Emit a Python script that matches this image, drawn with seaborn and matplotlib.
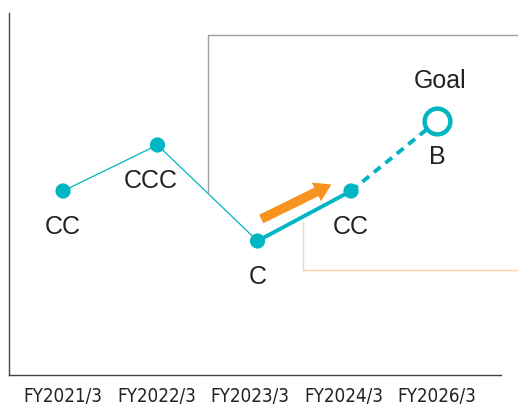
import matplotlib
matplotlib.use('Agg')
import matplotlib.pyplot as plt
from matplotlib.lines import Line2D
from matplotlib import font_manager
import seaborn as sns
import pandas as pd

# Data
years = ['FY2021/3', 'FY2022/3', 'FY2023/3', 'FY2024/3', 'FY2026/3']
ratings = ['CC', 'CCC', 'C', 'CC', 'B']
scores = [184, 230, 134, 184, 254]
xpos = [0, 1.01, 2.08, 3.08, 4]  # points sit a little right of the tick labels

TEAL = '#00B6C2'
ORANGE = '#F7931E'

sns.set_style('white')
plt.rcParams['font.family'] = ['Liberation Sans', 'DejaVu Sans']

# pick a narrow face for the year labels
fonts = font_manager.fontManager.ttflist
tick_font = dict(fontfamily='Liberation Sans', fontsize=12.8)
if any(f.name == 'Liberation Sans Narrow' for f in fonts):
    tick_font = dict(fontfamily='Liberation Sans Narrow', fontsize=15.5)
elif any(f.name == 'DejaVu Sans' and f.stretch == 'condensed' for f in fonts):
    tick_font = dict(fontfamily='DejaVu Sans', fontstretch='condensed', fontsize=13.5)

df = pd.DataFrame({'year': years, 'rating': ratings, 'score': scores, 'x': xpos})

fig = plt.figure(figsize=(5.18, 4.07), dpi=100)
ax = fig.add_axes([9 / 518, 32 / 407, 492 / 518, 362 / 407])

# thin line for history, thick for latest step, dashed to goal
sns.lineplot(data=df.iloc[0:3], x='x', y='score', color=TEAL, lw=0.9, ax=ax)
sns.lineplot(data=df.iloc[2:4], x='x', y='score', color=TEAL, lw=2.8, ax=ax)
sns.lineplot(data=df.iloc[3:5], x='x', y='score', color=TEAL, lw=2.8, ax=ax, linestyle=(0, (2.2, 1.6)))
sns.scatterplot(data=df.iloc[0:4], x='x', y='score', color=TEAL, s=120, edgecolor='none', ax=ax, zorder=5)
ax.plot(df['x'].iloc[4], df['score'].iloc[4], 'o', ms=18.5, mfc='white', mec=TEAL, mew=3.2, zorder=6)

# rating labels
for i, row in df.iterrows():
    dx = -5 if row['rating'] == 'CCC' else 0
    ax.annotate(row['rating'], (row['x'], row['score']), xytext=(dx, -26), textcoords='offset points',
                ha='center', va='center', fontsize=18, color='#222222')
ax.annotate('Goal', (df['x'].iloc[4], df['score'].iloc[4]), xytext=(2, 29), textcoords='offset points',
            ha='center', va='center', fontsize=18, color='#222222')

# orange improvement arrow, parallel to latest step
x0, y0 = df['x'].iloc[2], df['score'].iloc[2]
x1, y1 = df['x'].iloc[3], df['score'].iloc[3]
t0, t1 = 0.04, 0.79
ax.annotate('', xy=(x0 + t1 * (x1 - x0), y0 + t1 * (y1 - y0) + 17),
            xytext=(x0 + t0 * (x1 - x0), y0 + t0 * (y1 - y0) + 20),
            arrowprops=dict(arrowstyle='simple,head_width=1.5,head_length=1.2,tail_width=0.68',
                            color=ORANGE, lw=0, shrinkA=0, shrinkB=0))

ax.set_xlim(-0.578, 4.684)
ax.set_ylim(0, 362)
ax.set_xticks(range(len(years)))
ax.set_xticklabels(years, color='#222222', **tick_font)
ax.set_yticks([])
ax.set_xlabel('')
ax.set_ylabel('')
ax.tick_params(axis='x', length=0, pad=9)
for side in ['top', 'right']:
    ax.spines[side].set_visible(False)
for side in ['left', 'bottom']:
    ax.spines[side].set_color('#444444')
    ax.spines[side].set_linewidth(1.0)

# frames from the surrounding layout
W, H = 518, 407
gray = dict(color='#A0A0A0', lw=1.0)
fig.add_artist(Line2D([208 / W, 1], [1 - 35 / H, 1 - 35 / H], **gray))
fig.add_artist(Line2D([208 / W, 208 / W], [1 - 35 / H, 1 - 193 / H], **gray))
peach = dict(color='#FDD3A3', lw=1.0)
fig.add_artist(Line2D([303 / W, 303 / W], [1 - 222 / H, 1 - 270 / H], **peach))
fig.add_artist(Line2D([303 / W, 1], [1 - 270 / H, 1 - 270 / H], **peach))

fig.savefig('out.png', dpi=100)
